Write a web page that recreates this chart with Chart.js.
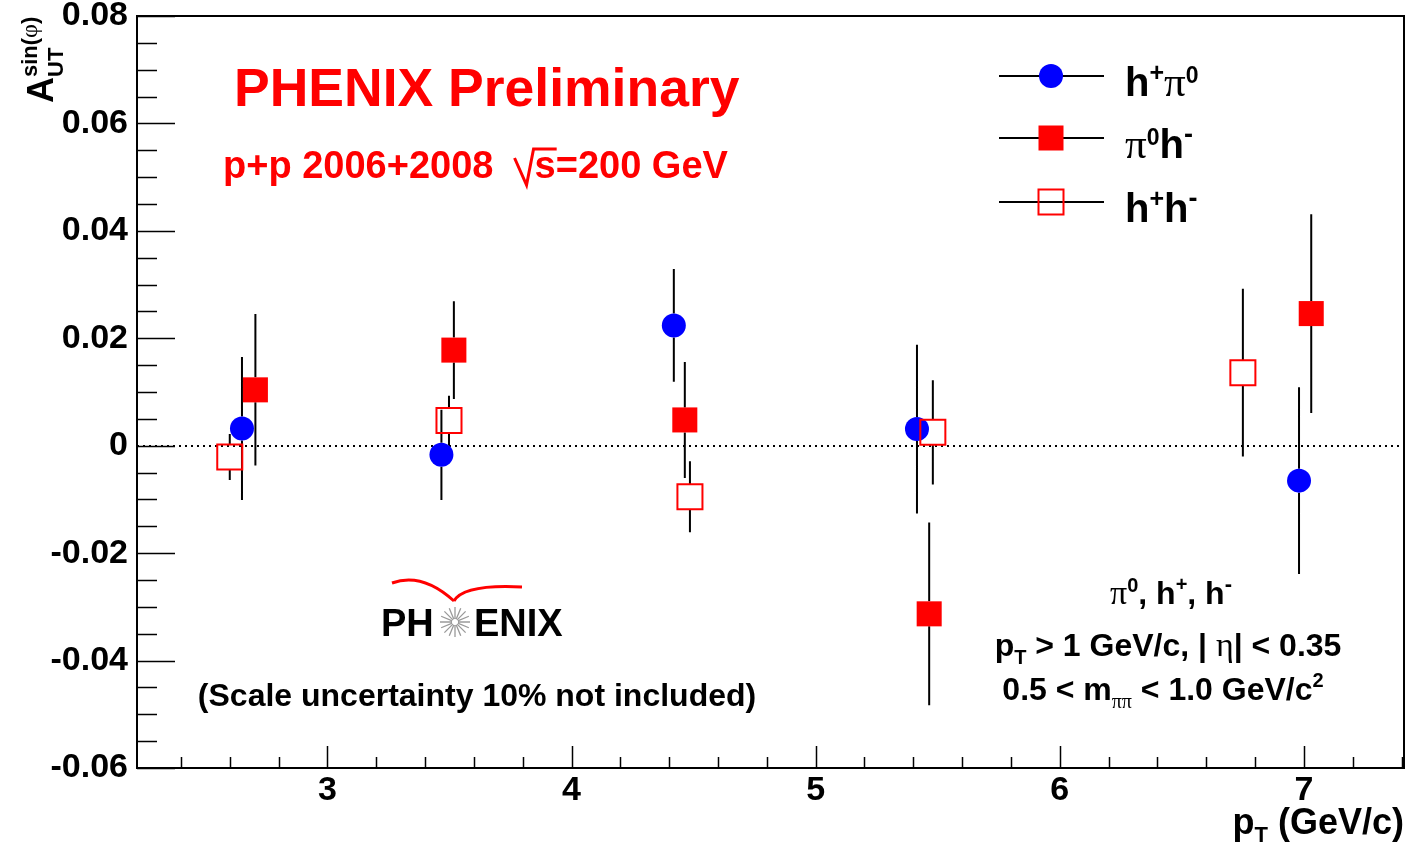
<!DOCTYPE html>
<html>
<head>
<meta charset="utf-8">
<title>A_UT sin(phi) vs pT</title>
<script src="https://cdn.jsdelivr.net/npm/chart.js@4.4.0/dist/chart.umd.min.js"></script>
<style>
  html, body { margin: 0; padding: 0; background: #fff; }
</style>
</head>
<body>
<canvas id="asym" width="1406" height="850"></canvas>
<script>
// pT (GeV/c), asymmetry and stat. error for each pair type
const ptHpPi0 = [2.65, 3.467, 4.419, 5.415, 6.98];
const aHpPi0 = [0.0032, -0.0017, 0.0224, 0.0031, -0.0065];
const errHpPi0 = [0.0133, 0.0084, 0.0105, 0.0157, 0.0174];

const ptPi0Hm = [2.705, 3.518, 4.464, 5.465, 7.03];
const aPi0Hm = [0.0104, 0.0178, 0.0048, -0.0313, 0.0246];
const errPi0Hm = [0.0141, 0.0091, 0.0108, 0.0170, 0.0185];

const ptHpHm = [2.60, 3.498, 4.485, 5.48, 6.75];
const aHpHm = [-0.0021, 0.0047, -0.0095, 0.0025, 0.0136];
const errHpHm = [0.0043, 0.0046, 0.0066, 0.0097, 0.0156];

// axis ticks
const xTickValues = [3, 4, 5, 6, 7];
const xTickLabels = ['3', '4', '5', '6', '7'];
const yTickValues = [-0.06, -0.04, -0.02, 0, 0.02, 0.04, 0.06, 0.08];
const yTickLabels = ['-0.06', '-0.04', '-0.02', '0', '0.02', '0.04', '0.06', '0.08'];

const SANS = '"Liberation Sans", Arial, Helvetica, sans-serif';
const SERIF = '"Liberation Serif", "Times New Roman", serif';

function toPoints(xs, ys) {
  return xs.map((x, i) => ({ x: x, y: ys[i] }));
}

// text pieces: T = bold sans, G = serif (greek letters)
const T = (t, s, dy) => ({ t: t, s: s, dy: dy || 0 });
const G = (t, s, dy) => ({ t: t, s: s, dy: dy || 0, serif: true });

function pieceFont(p) {
  return p.serif ? p.s + 'px ' + SERIF : 'bold ' + p.s + 'px ' + SANS;
}

function richWidth(ctx, parts) {
  let w = 0;
  parts.forEach(p => { ctx.font = pieceFont(p); w += ctx.measureText(p.t).width; });
  return w;
}

function drawRich(ctx, parts, x, y, align, color) {
  const w = richWidth(ctx, parts);
  let cx = align === 'center' ? x - w / 2 : align === 'right' ? x - w : x;
  ctx.fillStyle = color || '#000';
  ctx.textAlign = 'left';
  ctx.textBaseline = 'alphabetic';
  parts.forEach(p => {
    ctx.font = pieceFont(p);
    ctx.fillText(p.t, cx, y + p.dy);
    cx += ctx.measureText(p.t).width;
  });
  return w;
}

function drawMarker(ctx, ds, x, y) {
  const half = ds.markerHalf;
  ctx.save();
  if (ds.pointStyle === 'circle') {
    ctx.fillStyle = ds.backgroundColor;
    ctx.beginPath();
    ctx.arc(x, y, ds.pointRadius, 0, Math.PI * 2);
    ctx.fill();
  } else if (ds.borderWidth > 0) {
    ctx.strokeStyle = ds.borderColor;
    ctx.lineWidth = ds.borderWidth;
    ctx.strokeRect(x - half, y - half, half * 2, half * 2);
  } else {
    ctx.fillStyle = ds.backgroundColor;
    ctx.fillRect(x - half, y - half, half * 2, half * 2);
  }
  ctx.restore();
}

const legendLabels = [
  [T('h', 40), T('+', 25, -15), G('\u03c0', 43), T('0', 23, -13)],
  [G('\u03c0', 43), T('0', 23, -13), T('h', 40), T('-', 27, -15)],
  [T('h', 40), T('+', 25, -15), T('h', 40), T('-', 27, -15)]
];

// vertical error bars, drawn just before each dataset's markers
const errorBars = {
  id: 'errorBars',
  beforeDatasetDraw(chart, args) {
    const ds = chart.data.datasets[args.index];
    const ys = chart.scales.y;
    const ctx = chart.ctx;
    ctx.save();
    ctx.strokeStyle = '#000';
    ctx.lineWidth = 2;
    ctx.beginPath();
    args.meta.data.forEach((pt, i) => {
      const v = ds.data[i].y, e = ds.errors[i];
      const top = ys.getPixelForValue(v + e);
      const bot = ys.getPixelForValue(v - e);
      const half = ds.markerHalf;
      if (pt.y - half > top) { ctx.moveTo(pt.x, top); ctx.lineTo(pt.x, pt.y - half); }
      if (pt.y + half < bot) { ctx.moveTo(pt.x, pt.y + half); ctx.lineTo(pt.x, bot); }
    });
    ctx.stroke();
    ctx.restore();
  }
};

// dotted zero line
const zeroLine = {
  id: 'zeroLine',
  beforeDatasetsDraw(chart) {
    const { ctx, chartArea: a, scales: { y } } = chart;
    const py = Math.round(y.getPixelForValue(0));
    ctx.save();
    ctx.strokeStyle = '#000';
    ctx.lineWidth = 2;
    ctx.setLineDash([2, 4]);
    ctx.beginPath();
    ctx.moveTo(a.left, py);
    ctx.lineTo(a.right, py);
    ctx.stroke();
    ctx.restore();
  }
};

// frame with inward major/minor ticks, legend and annotations
const frameTicks = {
  id: 'frameTicks',
  afterDatasetsDraw(chart) {
    const { ctx, chartArea: a, scales: { x, y } } = chart;
    ctx.save();
    ctx.strokeStyle = '#000';
    ctx.lineWidth = 1.5;
    ctx.beginPath();
    for (let k = Math.ceil(x.min / 0.2 - 1e-6); k * 0.2 <= x.max + 1e-6; k++) {
      const v = k * 0.2;
      const px = Math.round(x.getPixelForValue(v)) + 0.5;
      const major = Math.abs(v - Math.round(v)) < 1e-6;
      ctx.moveTo(px, a.bottom);
      ctx.lineTo(px, a.bottom - (major ? 22 : 11));
    }
    for (let k = Math.ceil(y.min / 0.005 - 1e-6); k * 0.005 <= y.max + 1e-6; k++) {
      const py = Math.round(y.getPixelForValue(k * 0.005)) + 0.5;
      ctx.moveTo(a.left, py);
      ctx.lineTo(a.left + (k % 4 === 0 ? 38 : 20), py);
    }
    ctx.stroke();
    ctx.lineWidth = 2;
    ctx.strokeRect(a.left, a.top, a.right - a.left, a.bottom - a.top);
    ctx.restore();
  },
  afterDraw(chart) {
    const ctx = chart.ctx;
    const sets = chart.data.datasets;
    ctx.save();

    // legend
    const rows = [76, 138, 202];
    rows.forEach((ry, i) => {
      ctx.strokeStyle = '#000';
      ctx.lineWidth = 2;
      ctx.beginPath();
      ctx.moveTo(999, ry);
      ctx.lineTo(1104, ry);
      ctx.stroke();
      drawMarker(ctx, sets[i], 1051, ry);
      drawRich(ctx, legendLabels[i], 1125, ry + 20, 'left', '#000');
    });

    // title block
    drawRich(ctx, [T('PHENIX Preliminary', 53.5)], 234, 106, 'left', '#ff0000');
    ctx.font = 'bold 38px ' + SANS;
    const head = 'p+p 2006+2008  ';
    let hx = 223, hb = 178;
    ctx.fillStyle = '#ff0000';
    ctx.fillText(head, hx, hb);
    hx += ctx.measureText(head).width;
    const sW = ctx.measureText('s').width;
    ctx.strokeStyle = '#ff0000';
    ctx.lineWidth = 3;
    ctx.beginPath();
    ctx.moveTo(hx, hb - 20);
    ctx.lineTo(hx + 12, hb + 7);
    ctx.lineTo(hx + 19, hb - 29);
    ctx.lineTo(hx + 21 + sW, hb - 29);
    ctx.stroke();
    ctx.fillText('s', hx + 20, hb);
    ctx.fillText('=200 GeV', hx + 20 + sW, hb);

    // cuts
    drawRich(ctx, [G('\u03c0', 34), T('0', 20, -12), T(', h', 32), T('+', 20, -13), T(', h', 32), T('-', 22, -13)], 1171, 604, 'center');
    drawRich(ctx, [T('p', 32), T('T', 20, 8), T(' > 1 GeV/c, | ', 32), G('\u03b7', 34), T('| < 0.35', 32)], 1168, 656, 'center');
    drawRich(ctx, [T('0.5 < m', 32), G('\u03c0\u03c0', 20, 8), T(' < 1.0 GeV/c', 32), T('2', 20, -13)], 1163, 700, 'center');

    drawRich(ctx, [T('(Scale uncertainty 10% not included)', 32)], 477, 706, 'center');

    // PHENIX logo
    ctx.strokeStyle = '#ff0000';
    ctx.lineWidth = 3;
    ctx.beginPath();
    ctx.moveTo(392, 583);
    ctx.quadraticCurveTo(422, 572, 454, 601);
    ctx.moveTo(454, 601);
    ctx.quadraticCurveTo(464, 584, 522, 587);
    ctx.stroke();
    ctx.fillStyle = '#000';
    ctx.font = 'bold 38px ' + SANS;
    ctx.fillText('PH', 381, 636);
    ctx.fillText('ENIX', 474, 636);
    ctx.strokeStyle = '#9a9a9a';
    ctx.lineWidth = 1.3;
    ctx.beginPath();
    for (let k = 0; k < 16; k++) {
      const ang = k * Math.PI / 8;
      ctx.moveTo(455 + 3 * Math.cos(ang), 622 + 3 * Math.sin(ang));
      ctx.lineTo(455 + 15 * Math.cos(ang), 622 + 15 * Math.sin(ang));
    }
    ctx.stroke();

    // axis titles
    drawRich(ctx, [T('p', 36), T('T', 22, 8), T(' (GeV/c)', 36)], 1404, 834, 'right');
    ctx.translate(53, 103);
    ctx.rotate(-Math.PI / 2);
    const wA = drawRich(ctx, [T('A', 36)], 0, 0, 'left');
    drawRich(ctx, [T('UT', 22)], wA, 10, 'left');
    drawRich(ctx, [T('sin(', 22), G('\u03c6', 24), T(')', 22)], wA, -16, 'left');
    ctx.restore();
  }
};

const ctx = document.getElementById('asym').getContext('2d');
new Chart(ctx, {
  type: 'scatter',
  data: {
    datasets: [
      {
        label: 'h+pi0', data: toPoints(ptHpPi0, aHpPi0), errors: errHpPi0, order: 3,
        pointStyle: 'circle', pointRadius: 12, markerHalf: 12,
        backgroundColor: '#0000ff', borderColor: '#0000ff', borderWidth: 0
      },
      {
        label: 'pi0h-', data: toPoints(ptPi0Hm, aPi0Hm), errors: errPi0Hm, order: 2,
        pointStyle: 'rect', pointRadius: 17.7, markerHalf: 12.5,
        backgroundColor: '#ff0000', borderColor: '#ff0000', borderWidth: 0
      },
      {
        label: 'h+h-', data: toPoints(ptHpHm, aHpHm), errors: errHpHm, order: 1,
        pointStyle: 'rect', pointRadius: 17.7, markerHalf: 12.5,
        backgroundColor: 'rgba(0,0,0,0)', borderColor: '#ff0000', borderWidth: 2
      }
    ]
  },
  options: {
    responsive: false,
    animation: false,
    events: [],
    layout: { autoPadding: false, padding: { top: 16, right: 2, left: 0, bottom: 0 } },
    plugins: { legend: { display: false }, tooltip: { enabled: false } },
    scales: {
      x: {
        type: 'linear',
        min: 2.22,
        max: 7.41,
        afterBuildTicks: s => { s.ticks = xTickValues.map(v => ({ value: v })); },
        afterFit: s => { s.height = 82; s.paddingLeft = 0; s.paddingRight = 0; },
        grid: { display: false, drawTicks: false },
        border: { display: false },
        ticks: {
          callback: (v, i) => xTickLabels[i],
          color: '#000',
          padding: 2,
          maxRotation: 0,
          autoSkip: false,
          font: { family: SANS, size: 34, weight: 'bold' }
        }
      },
      y: {
        type: 'linear',
        min: -0.06,
        max: 0.08,
        afterBuildTicks: s => { s.ticks = yTickValues.map(v => ({ value: v })); },
        afterFit: s => { s.width = 137; s.paddingTop = 0; s.paddingBottom = 0; },
        grid: { display: false, drawTicks: false },
        border: { display: false },
        ticks: {
          callback: (v, i) => yTickLabels[i],
          color: '#000',
          padding: 9,
          autoSkip: false,
          font: { family: SANS, size: 34, weight: 'bold', lineHeight: 0.9 }
        }
      }
    }
  },
  plugins: [zeroLine, errorBars, frameTicks]
});
</script>
</body>
</html>
